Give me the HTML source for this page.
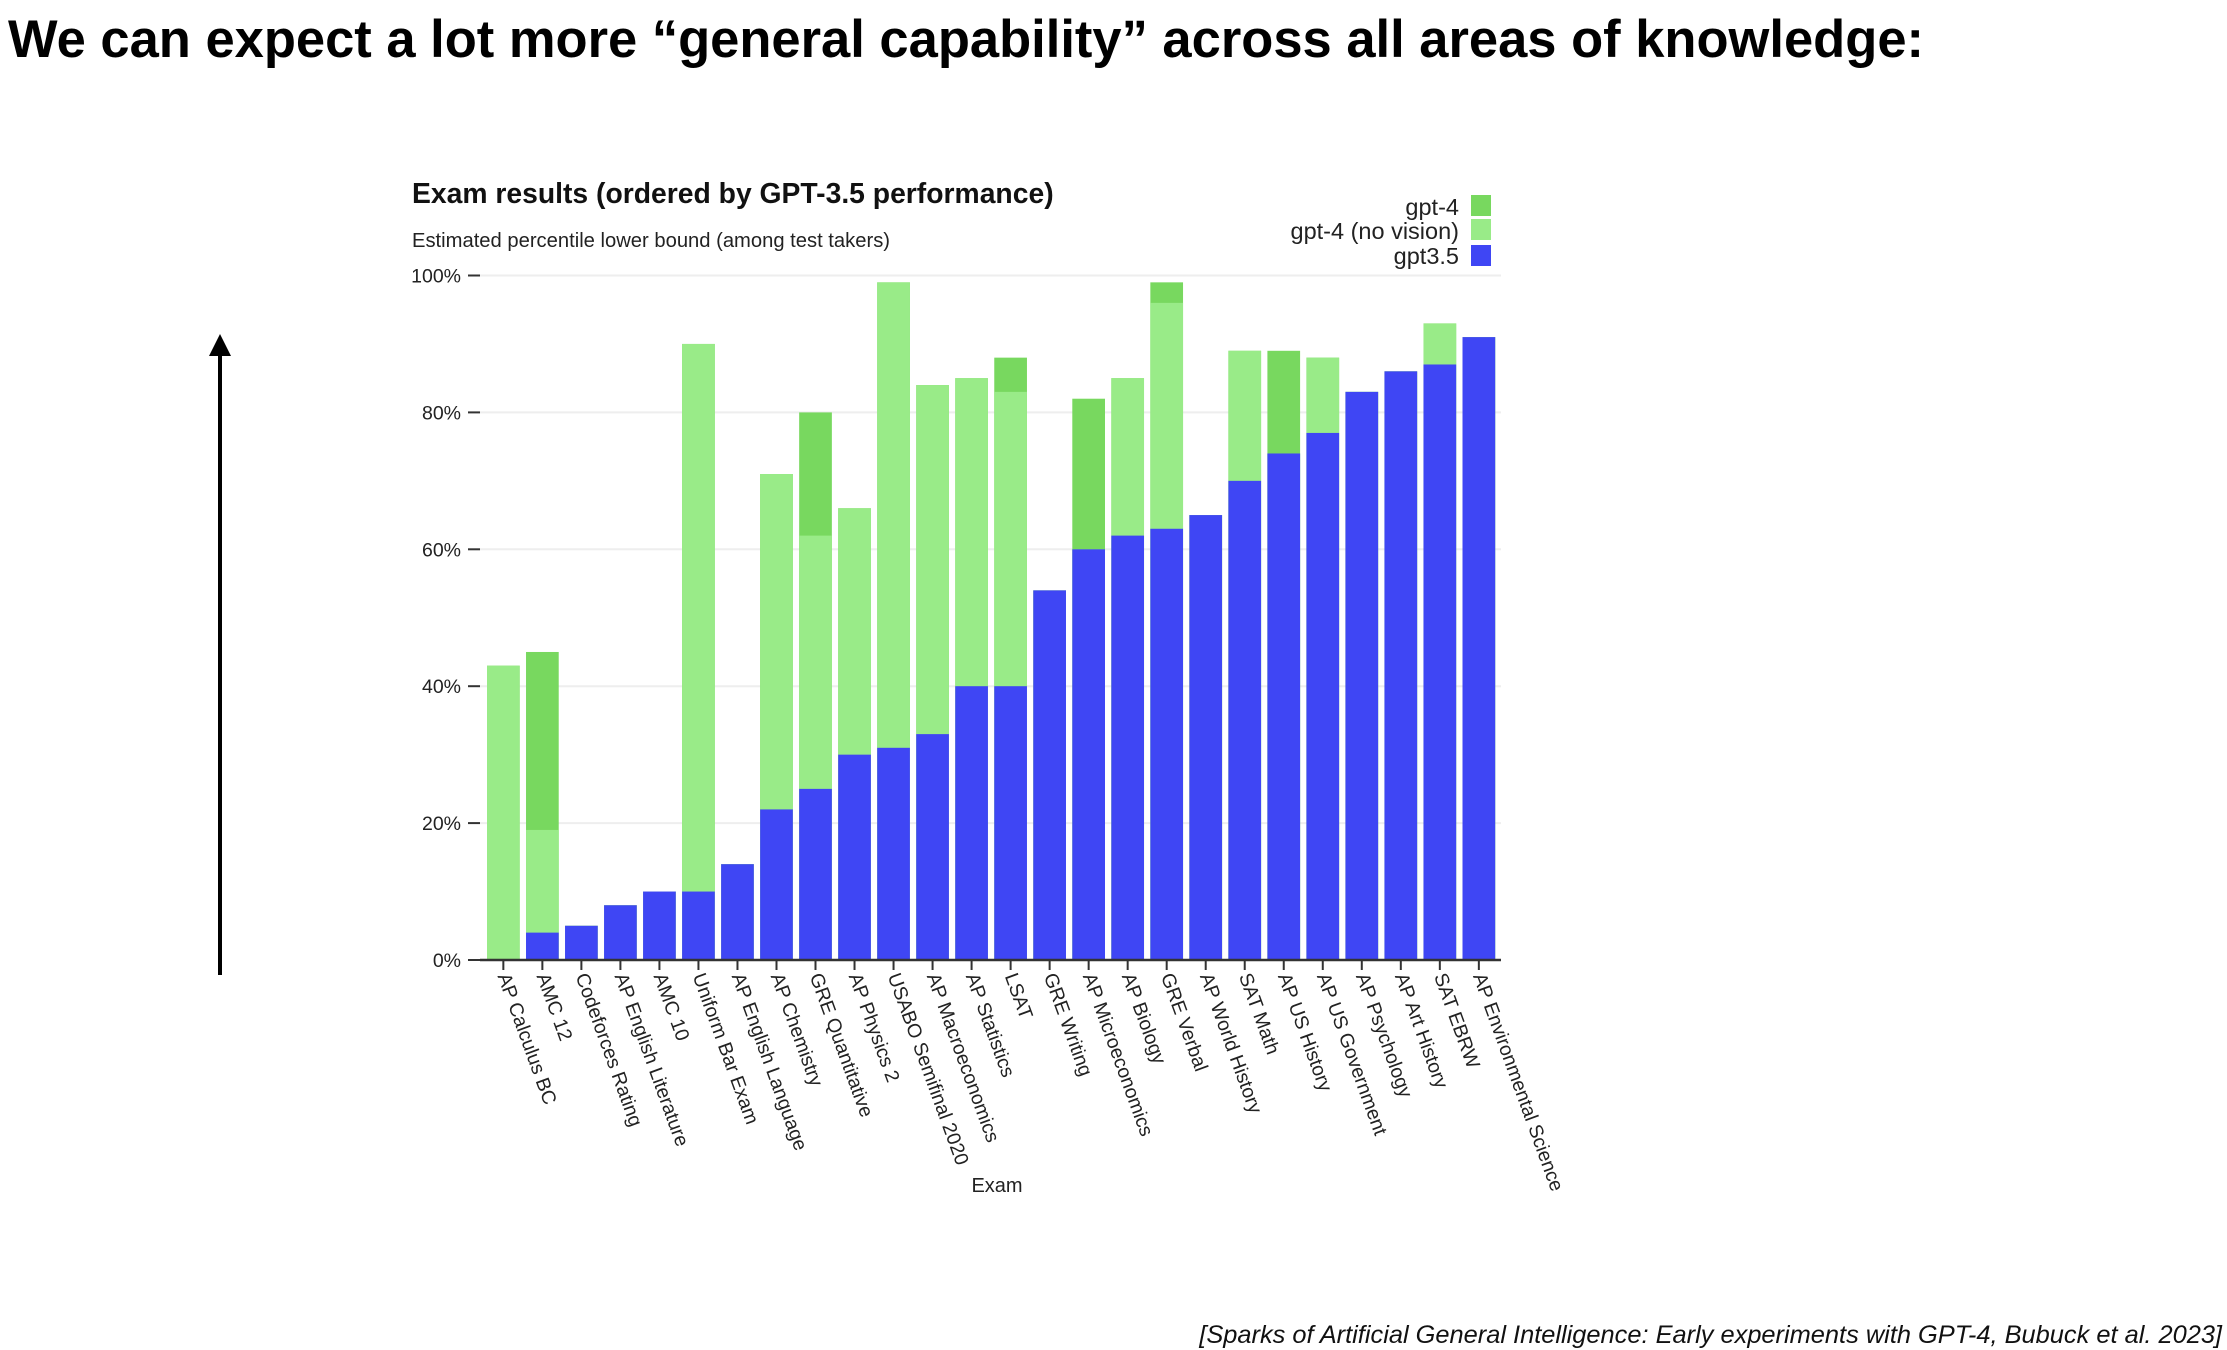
<!DOCTYPE html>
<html><head><meta charset="utf-8"><style>
html,body{margin:0;padding:0;background:#fff;}
svg{display:block;font-family:"Liberation Sans",Arial,sans-serif;}
</style></head><body>
<svg id="chart" width="2227" height="1350" viewBox="0 0 2227 1350">
<text x="8" y="57" font-size="52.5" font-weight="bold" fill="#000">We can expect a lot more “general capability” across all areas of knowledge:</text>
<line x1="220" y1="975" x2="220" y2="355" stroke="#000" stroke-width="4"/>
<polygon points="220,334 209,356 231,356" fill="#000"/>
<text x="412" y="203" font-size="28.3" font-weight="bold" fill="#111">Exam results (ordered by GPT-3.5 performance)</text>
<text x="412" y="247" font-size="20.2" fill="#222">Estimated percentile lower bound (among test takers)</text>
<g id="grid"></g>
<g id="bars"></g>
<g id="xlabels"></g>
<line x1="480" y1="960" x2="1501" y2="960" stroke="#333" stroke-width="2.5"/>
<text x="997" y="1192" font-size="20" fill="#222" text-anchor="middle">Exam</text>
<g>
<text x="1459" y="215" font-size="23.5" fill="#222" text-anchor="end">gpt-4</text>
<rect x="1471" y="195" width="20" height="21" fill="#78d85f"/>
<text x="1459" y="239" font-size="23.5" fill="#222" text-anchor="end">gpt-4 (no vision)</text>
<rect x="1471" y="219" width="20" height="21" fill="#99eb88"/>
<text x="1459" y="264" font-size="23.5" fill="#222" text-anchor="end">gpt3.5</text>
<rect x="1471" y="245" width="20" height="21" fill="#3f46f4"/>
</g>
<text x="2222" y="1343" font-size="25.4" font-style="italic" fill="#111" text-anchor="end">[Sparks of Artificial General Intelligence: Early experiments with GPT-4, Bubuck et al. 2023]</text>
</svg>
<script>
const categories = ["AP Calculus BC","AMC 12","Codeforces Rating","AP English Literature","AMC 10","Uniform Bar Exam","AP English Language","AP Chemistry","GRE Quantitative","AP Physics 2","USABO Semifinal 2020","AP Macroeconomics","AP Statistics","LSAT","GRE Writing","AP Microeconomics","AP Biology","GRE Verbal","AP World History","SAT Math","AP US History","AP US Government","AP Psychology","AP Art History","SAT EBRW","AP Environmental Science"];
const gpt35 = [0,4,5,8,10,10,14,22,25,30,31,33,40,40,54,60,62,63,65,70,74,77,83,86,87,91];
const gpt4NoVision = [43,19,5,8,10,90,14,71,62,66,99,84,85,83,54,60,85,96,65,89,74,88,83,86,93,91];
const gpt4 = [43,45,5,8,10,90,14,71,80,66,99,84,85,88,54,82,85,99,65,89,89,88,83,86,93,91];
const yTicks = [0,20,40,60,80,100];
const yTickLabels = ["0%","20%","40%","60%","80%","100%"];

const NS = "http://www.w3.org/2000/svg";
const Y0 = 960, Y100 = 275.5, X0 = 487, PITCH = 39.02, BW = 32.7;
function yScale(v){ return Y0 - (Y0 - Y100) * v / 100; }
function xScale(i){ return X0 + i * PITCH; }
function mk(tag, attrs){ const e = document.createElementNS(NS, tag); for (const k in attrs) e.setAttribute(k, attrs[k]); return e; }

const grid = document.getElementById('grid');
yTicks.forEach((t, i) => {
  const y = yScale(t);
  if (t > 0) {
    const gl = mk('line', {x1: 480, x2: 1501, y1: y, y2: y, stroke: '#eeeeee', 'stroke-width': 2});
    
    
    grid.appendChild(gl);
  }
  const tk = mk('line', {x1: 468, x2: 480, y1: y, y2: y, stroke: '#333', 'stroke-width': 2});
  
  
  grid.appendChild(tk);
  const lb = mk('text', {x: 461, y: y + 7, 'font-size': 19.5, fill: '#222', 'text-anchor': 'end'});
  lb.textContent = yTickLabels[i];
  
  
  grid.appendChild(lb);
});

const bars = document.getElementById('bars');
const xl = document.getElementById('xlabels');
categories.forEach((c, i) => {
  const x = xScale(i);
  const segs = [[gpt4[i], '#78d85f', 'bar-gpt4'], [gpt4NoVision[i], '#99eb88', 'bar-gpt4-no-vision'], [gpt35[i], '#3f46f4', 'bar-gpt35']];
  segs.forEach(s => {
    if (s[0] <= 0) return;
    const r = mk('rect', {x: x, y: yScale(s[0]), width: BW, height: Y0 - yScale(s[0]), fill: s[1]});
    
    
    bars.appendChild(r);
  });
  const cx = x + BW / 2;
  const tk = mk('line', {x1: cx, x2: cx, y1: 960, y2: 970, stroke: '#333', 'stroke-width': 2});
  
  
  xl.appendChild(tk);
  const t = mk('text', {x: 0, y: 0, 'font-size': 19.5, fill: '#222', transform: 'translate(' + (cx - 6) + ',976) rotate(70)'});
  t.textContent = c;
  
  
  xl.appendChild(t);
});
</script>
</body></html>
